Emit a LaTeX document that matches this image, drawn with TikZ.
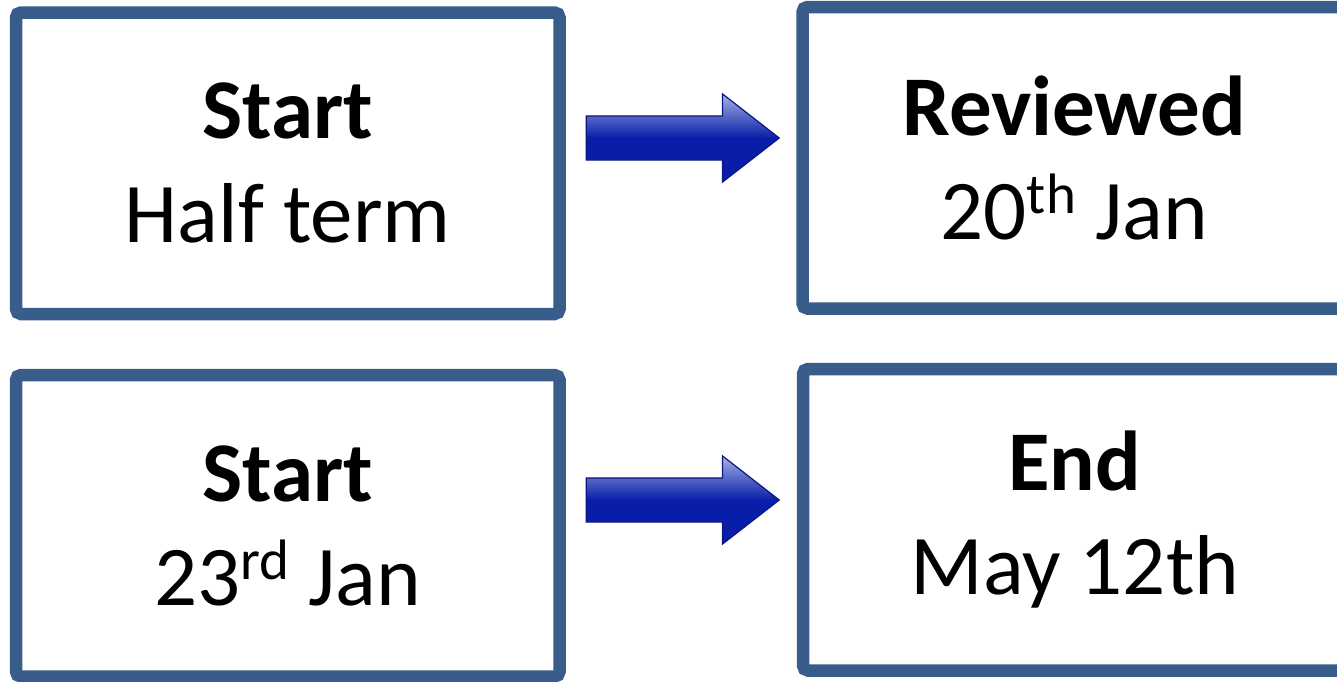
\documentclass[tikz,border=0pt]{standalone}
\usepackage{fontspec}
\setmainfont{Carlito}
\usetikzlibrary{shapes.arrows,positioning}
\definecolor{boxborder}{RGB}{56,93,138}
\definecolor{arrowdark}{RGB}{8,30,168}
\definecolor{arrowlight}{RGB}{165,178,228}
\definecolor{arrowline}{RGB}{10,22,130}
\newcommand{\ordsup}[1]{\raisebox{0.3em}{\fontsize{57}{57}\selectfont #1}}

\begin{document}
\begin{tikzpicture}[x=1pt, y=-1pt,
    box/.style={draw=boxborder, line width=12.5pt, rounded corners=5pt, minimum width=543.5pt, minimum height=301.5pt, inner sep=0pt, align=center, font=\fontsize{85}{104}\selectfont},
    blockarrow/.style={single arrow, draw=arrowline, line width=1.2pt, top color=arrowlight, bottom color=arrowdark, middle color=arrowdark, minimum height=193pt, inner xsep=0pt, inner ysep=21.5pt, single arrow head extend=22pt, single arrow tip angle=75.7, single arrow head indent=0pt}
]
\useasboundingbox (0,0) rectangle (1337,681);
\clip (0,0) rectangle (1337,681);

% Top row
\node[box] (starthalf) at (287.75,163.25) {\textbf{Start}\\Half term};
\node[box] (reviewed) at (1074.25,157.75) {\textbf{Reviewed}\\20\ordsup{th} Jan};

% Bottom row
\node[box] (startjan) at (287.75,525.75) {\textbf{Start}\\23\ordsup{rd} Jan};
\node[box] (endmay) at (1074.75,519.75) {\textbf{End}\\May 12th};

% Arrows between the boxes
\node[blockarrow] (toparrow) at (668.5,138) {};
\node[blockarrow] (bottomarrow) at (668.5,500) {};

\end{tikzpicture}
\end{document}
